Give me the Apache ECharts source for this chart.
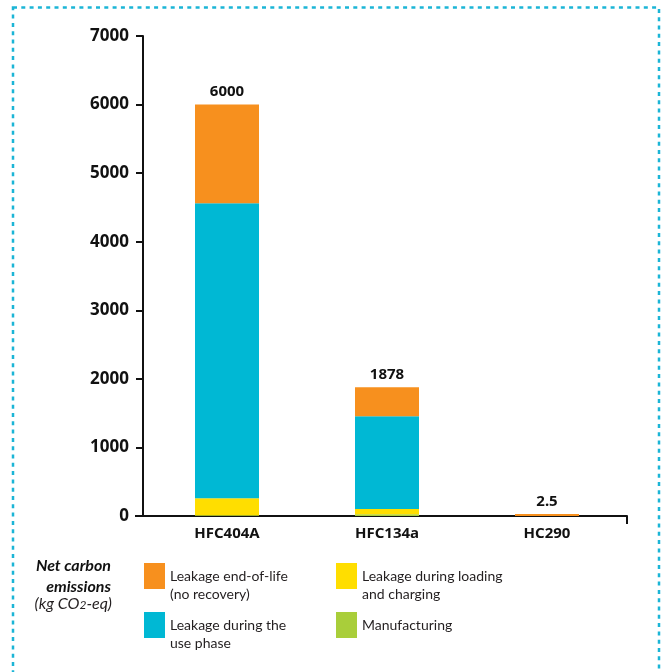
<!DOCTYPE html>
<html>
<head>
<meta charset="utf-8">
<title>Net carbon emissions by refrigerant</title>
<script src="https://cdn.jsdelivr.net/npm/echarts@6/dist/echarts.min.js"></script>
<style>
  html, body { margin: 0; padding: 0; background: #ffffff; }
  #chart { width: 662px; height: 672px; }
</style>
</head>
<body>
<div id="chart"></div>
<script>
// Refrigerants compared
const categories = ['HFC404A', 'HFC134a', 'HC290'];

// Net carbon emissions per life-cycle stage (kg CO2-eq), stacked bottom to top
const manufacturing = [10, 27, 0.5];
const leakageLoading = [250, 75, 0.2];
const leakageUse = [4300, 1352, 0.6];
const leakageEndOfLife = [1440, 424, 1.2];

// Value axis ticks
const yTicks = [0, 1000, 2000, 3000, 4000, 5000, 6000, 7000];

const seriesNames = {
  eol: 'Leakage end-of-life\n(no recovery)',
  use: 'Leakage during the\nuse phase',
  load: 'Leakage during loading\nand charging',
  manu: 'Manufacturing'
};

const colors = {
  eol: '#F7901E',
  use: '#00B8D4',
  load: '#FFDE00',
  manu: '#A9CE3A',
  border: '#1BB5D6',
  ink: '#111111',
  text: '#231F20'
};

const FONT = '"Noto Sans", "Open Sans", sans-serif';
const LEGEND_FONT = 'Lato, Roboto, sans-serif';

// Plot area
const grid = { left: 147, top: 36, width: 480, height: 480 };
const yAxisOffset = 4;

const totals = categories.map((_, i) =>
  manufacturing[i] + leakageLoading[i] + leakageUse[i] + leakageEndOfLife[i]);

function fmtTotal(v) {
  return String(Math.round(v * 10) / 10);
}

// Two-line legend entries get a blank leading line so the first line
// sits level with the middle of the swatch.
function legendFormatter(name) {
  const lines = name.split('\n');
  if (lines.length === 1) return '{t|' + name + '}';
  return '{e| }\n' + lines.map((l) => '{t|' + l + '}').join('\n');
}

const legendText = {
  fontFamily: LEGEND_FONT,
  fontSize: 14,
  color: colors.text,
  lineHeight: 18,
  rich: {
    e: { fontFamily: LEGEND_FONT, fontSize: 14, lineHeight: 18 },
    t: { fontFamily: LEGEND_FONT, fontSize: 14, lineHeight: 18, color: colors.text }
  }
};

const legendCommon = {
  orient: 'vertical', padding: 0,
  itemWidth: 21, itemHeight: 26, icon: 'rect',
  selectedMode: false, textStyle: legendText,
  formatter: legendFormatter
};

const chart = echarts.init(document.getElementById('chart'), null, { renderer: 'canvas' });

const barBase = { type: 'bar', stack: 'total', barWidth: 64 };

const axisY = grid.top + grid.height;
const axisLeft = grid.left - yAxisOffset;
const axisRight = grid.left + grid.width;

// Caption to the left of the legend, right-aligned
const captionRight = 111;
const captionStyle = { fontFamily: LEGEND_FONT, fontSize: 16, fill: colors.ink, align: 'right', verticalAlign: 'middle' };

chart.setOption({
  animation: false,
  backgroundColor: '#ffffff',
  grid: {
    left: grid.left,
    top: grid.top,
    width: grid.width,
    height: grid.height,
    containLabel: false
  },
  xAxis: {
    type: 'category',
    data: categories,
    axisLine: { lineStyle: { color: colors.ink, width: 2 } },
    axisTick: { alignWithLabel: true, length: 8, lineStyle: { color: colors.ink, width: 2 } },
    axisLabel: {
      fontFamily: FONT, fontSize: 15, fontWeight: 'bold', color: colors.ink, margin: 10
    }
  },
  yAxis: {
    type: 'value',
    min: yTicks[0],
    max: yTicks[yTicks.length - 1],
    interval: yTicks[1] - yTicks[0],
    offset: yAxisOffset,
    axisLine: { show: true, lineStyle: { color: colors.ink, width: 2 } },
    axisTick: { show: true, length: 7, lineStyle: { color: colors.ink, width: 2 } },
    splitLine: { show: false },
    axisLabel: {
      fontFamily: FONT, fontSize: 17, fontWeight: 'bold', color: colors.ink, margin: 14,
      formatter: (v) => String(v)
    }
  },
  legend: [
    Object.assign({}, legendCommon, {
      left: 144, top: 549, itemGap: -5,
      data: [seriesNames.eol, seriesNames.use]
    }),
    Object.assign({}, legendCommon, {
      left: 336, top: 549, itemGap: 9,
      data: [seriesNames.load, seriesNames.manu]
    })
  ],
  graphic: [
    {
      // dashed frame around the figure
      type: 'rect', silent: true, z: 0,
      shape: { x: 13, y: 7.5, width: 646, height: 700 },
      style: { fill: 'none', stroke: colors.border, lineWidth: 2.5, lineDash: [4, 4.3] }
    },
    {
      // short run of the baseline to the left of the value axis
      type: 'line', silent: true, z: 10,
      shape: { x1: axisLeft - 8, y1: axisY, x2: grid.left, y2: axisY },
      style: { stroke: colors.ink, lineWidth: 2 }
    },
    {
      // closing tick at the right end of the baseline
      type: 'line', silent: true, z: 10,
      shape: { x1: axisRight, y1: axisY, x2: axisRight, y2: axisY + 8 },
      style: { stroke: colors.ink, lineWidth: 2 }
    },
    {
      type: 'text', silent: true, x: captionRight, y: 566,
      style: Object.assign({}, captionStyle, { text: 'Net carbon', fontWeight: 'bold', fontStyle: 'italic' })
    },
    {
      type: 'text', silent: true, x: captionRight, y: 587,
      style: Object.assign({}, captionStyle, { text: 'emissions', fontWeight: 'bold', fontStyle: 'italic' })
    },
    {
      type: 'text', silent: true, x: captionRight + 1, y: 604,
      style: Object.assign({}, captionStyle, {
        text: '{i|(kg CO}{s|2}{i|-eq)}',
        rich: {
          i: { fontFamily: LEGEND_FONT, fontSize: 16, fontStyle: 'italic', fill: colors.text },
          s: { fontFamily: LEGEND_FONT, fontSize: 12, fontStyle: 'italic', fill: colors.text, padding: [3, 0, 0, 0] }
        }
      })
    }
  ],
  series: [
    Object.assign({}, barBase, {
      name: seriesNames.manu, data: manufacturing, itemStyle: { color: colors.manu }
    }),
    Object.assign({}, barBase, {
      name: seriesNames.load, data: leakageLoading, itemStyle: { color: colors.load }
    }),
    Object.assign({}, barBase, {
      name: seriesNames.use, data: leakageUse, itemStyle: { color: colors.use }
    }),
    Object.assign({}, barBase, {
      name: seriesNames.eol, data: leakageEndOfLife, itemStyle: { color: colors.eol },
      barMinHeight: 2,
      label: {
        show: true, position: 'top', distance: 5,
        fontFamily: FONT, fontSize: 15, fontWeight: 'bold', color: colors.ink,
        formatter: (p) => fmtTotal(totals[p.dataIndex])
      }
    })
  ]
});
</script>
</body>
</html>
